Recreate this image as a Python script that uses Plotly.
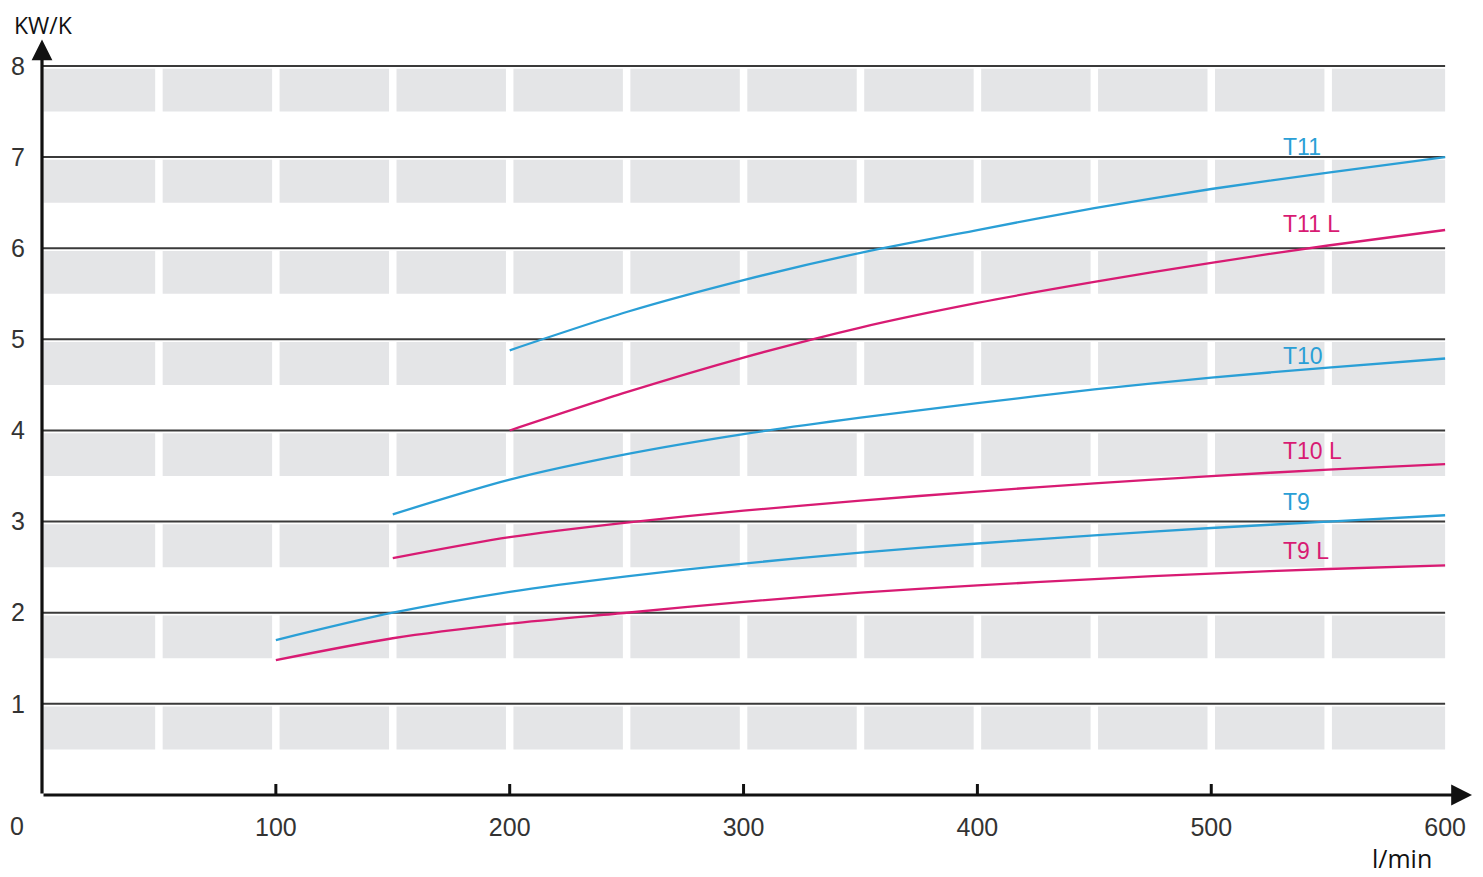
import plotly.graph_objects as go

# ---- data ----
x_T11 = [200, 250, 300, 350, 400, 450, 500, 550, 600]
y_T11 = [4.88, 5.30, 5.65, 5.95, 6.20, 6.44, 6.65, 6.83, 7.00]
x_T11L = [200, 250, 300, 350, 400, 450, 500, 550, 600]
y_T11L = [4.00, 4.42, 4.80, 5.13, 5.40, 5.63, 5.84, 6.03, 6.20]
x_T10 = [150, 200, 250, 300, 350, 400, 450, 500, 550, 600]
y_T10 = [3.08, 3.46, 3.74, 3.96, 4.14, 4.30, 4.45, 4.58, 4.69, 4.79]
x_T10L = [150, 200, 250, 300, 350, 400, 450, 500, 550, 600]
y_T10L = [2.60, 2.83, 2.99, 3.12, 3.23, 3.33, 3.42, 3.50, 3.57, 3.63]
x_T9 = [100, 150, 200, 250, 300, 350, 400, 450, 500, 550, 600]
y_T9 = [1.70, 2.00, 2.23, 2.40, 2.54, 2.66, 2.76, 2.85, 2.93, 3.00, 3.07]
x_T9L = [100, 150, 200, 250, 300, 350, 400, 450, 500, 550, 600]
y_T9L = [1.48, 1.72, 1.88, 2.00, 2.12, 2.22, 2.30, 2.37, 2.43, 2.48, 2.52]

series_names = ["T11", "T11 L", "T10", "T10 L", "T9", "T9 L"]
label_y = [7.11, 6.27, 4.82, 3.77, 3.21, 2.68]
label_x = [530, 530, 530, 530, 530, 530]

x_ticks = [100, 200, 300, 400, 500, 600]
y_ticks = [1, 2, 3, 4, 5, 6, 7, 8]
x_max = 600
cell_width = 50

BLUE = "#2a9fd6"
MAGENTA = "#d81b73"
FONT = "Liberation Sans, Arial, sans-serif"
TITLE_FONT = "Open Sans, DejaVu Sans, sans-serif"

series = [
    (x_T11, y_T11, BLUE),
    (x_T11L, y_T11L, MAGENTA),
    (x_T10, y_T10, BLUE),
    (x_T10L, y_T10L, MAGENTA),
    (x_T9, y_T9, BLUE),
    (x_T9L, y_T9L, MAGENTA),
]

fig = go.Figure()
for (xs, ys, col), name in zip(series, series_names):
    fig.add_trace(go.Scatter(x=xs, y=ys, mode="lines", name=name,
                             line=dict(color=col, width=2.3, shape="spline", smoothing=0.8),
                             showlegend=False, hoverinfo="x+y+name"))

shapes = []
# gray cells below each gridline
n_cells = x_max // cell_width
gap = 1.6
for k in y_ticks:
    for j in range(n_cells):
        x0 = j * cell_width + (gap if j > 0 else 0.6)
        x1 = (j + 1) * cell_width - (gap if j < n_cells - 1 else 0)
        shapes.append(dict(type="rect", xref="x", yref="y", x0=x0, x1=x1,
                           y0=k - 0.5, y1=k - 0.03, fillcolor="#e4e5e7",
                           line=dict(width=0), layer="below"))
# gridlines
for k in y_ticks:
    shapes.append(dict(type="line", xref="x", yref="y", x0=0, x1=x_max, y0=k, y1=k,
                       line=dict(color="#3a3a3a", width=2), layer="below"))
# x tick marks (pointing up, none at the arrow end)
for t in x_ticks[:-1]:
    shapes.append(dict(type="line", xref="x", yref="y", ysizemode="pixel", yanchor=0,
                       x0=t, x1=t, y0=0, y1=11, line=dict(color="#111111", width=3)))

# page body has an 8px default margin: size the figure to fill the rest
W, H = 1475, 869
ml, mr, mt, mb = 34, 11, 30, 82
plot_h = H - mt - mb

annotations = []
# axis arrows
annotations.append(dict(x=611.5, y=0, ax=0, ay=0, xref="x", yref="y", axref="x", ayref="y",
                        text="", showarrow=True, arrowhead=2, arrowsize=1.3,
                        arrowwidth=3.2, arrowcolor="#111111"))
annotations.append(dict(x=0, y=8.29, ax=0, ay=0, xref="x", yref="y", axref="x", ayref="y",
                        text="", showarrow=True, arrowhead=2, arrowsize=1.3,
                        arrowwidth=3.2, arrowcolor="#111111"))
# curve labels
for name, lx, ly, (_, _, col) in zip(series_names, label_x, label_y, series):
    annotations.append(dict(x=lx, y=ly, xref="x", yref="y", text=name, showarrow=False,
                            xanchor="left", yanchor="middle",
                            font=dict(family=FONT, size=23, color=col)))
# origin label
annotations.append(dict(x=0, y=0, xref="x", yref="y", text="0", showarrow=False,
                        xshift=-25, yshift=-31,
                        font=dict(family=FONT, size=25, color="#333333")))
# axis titles
annotations.append(dict(x=(5 - ml) / (W - ml - mr), y=(H - mb) / plot_h,
                        xref="paper", yref="paper", text="KW/K",
                        showarrow=False, xanchor="left", yanchor="top", borderpad=0,
                        font=dict(family=TITLE_FONT, size=23, color="#111111")))
annotations.append(dict(x=600, y=0, xref="x", yref="y", text="l/min", showarrow=False,
                        xanchor="right", yanchor="middle", xshift=-11, yshift=-63,
                        font=dict(family=TITLE_FONT, size=25, color="#111111")))

fig.update_layout(
    width=W, height=H,
    margin=dict(l=ml, r=mr, t=mt, b=mb, autoexpand=False),
    paper_bgcolor="white", plot_bgcolor="white",
    xaxis=dict(range=[0, 611.5], tickmode="array", tickvals=x_ticks,
               ticktext=[str(t) for t in x_ticks], ticks="", showgrid=False,
               zeroline=False, showline=False, ticklabelstandoff=15,
               tickfont=dict(family=FONT, size=25, color="#333333")),
    yaxis=dict(range=[0, 8.307], tickmode="array", tickvals=y_ticks,
               ticktext=[str(t) for t in y_ticks], ticks="", showgrid=False,
               zeroline=False, showline=False, ticklabelstandoff=16,
               tickfont=dict(family=FONT, size=25, color="#333333")),
    shapes=shapes,
    annotations=annotations,
)

fig.write_html("out.html")
